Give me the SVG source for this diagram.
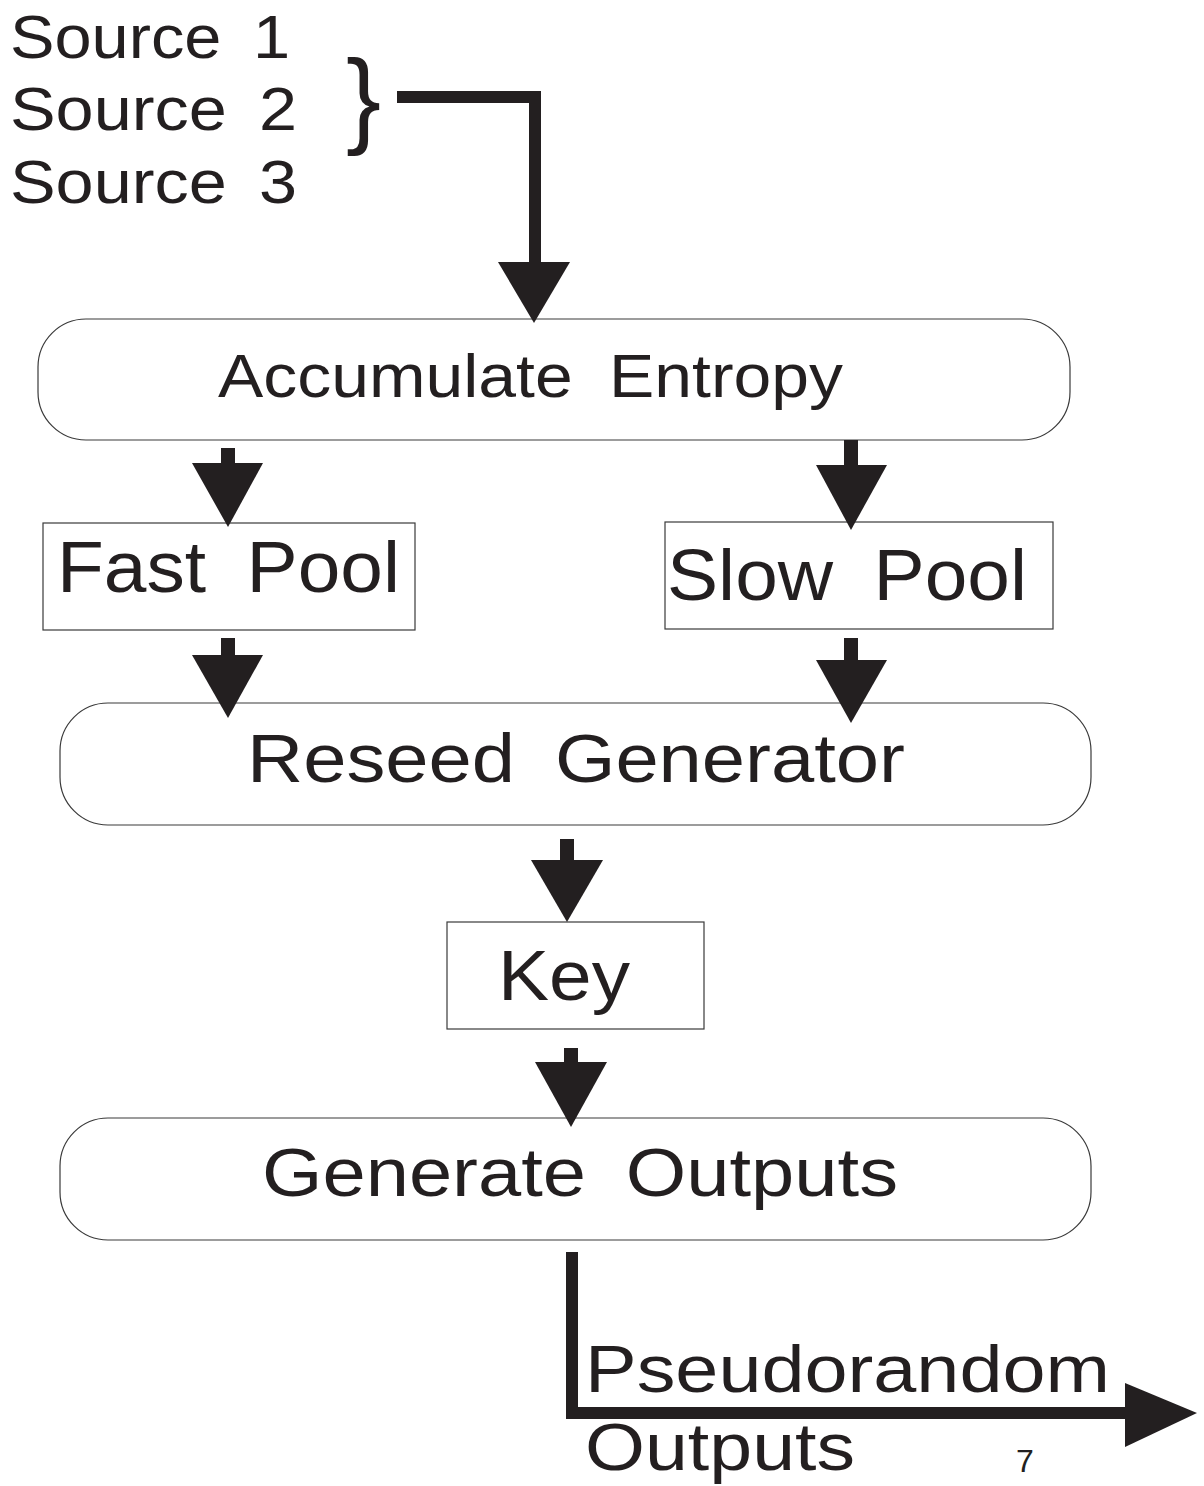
<svg xmlns="http://www.w3.org/2000/svg" width="1204" height="1486" viewBox="0 0 1204 1486">
<style>
text{font-family:"Liberation Sans",Arial,sans-serif;fill:#231f20}
.box{fill:#fff;stroke:#3a3a3a;stroke-width:1.2}
.wire{fill:none;stroke:#231f20}
.head{fill:#231f20}
</style>
<rect width="1204" height="1486" fill="#fff"/>
<g id="sources">
<text x="10" y="58" font-size="62" word-spacing="12" textLength="280" lengthAdjust="spacingAndGlyphs">Source 1</text>
<text x="10" y="130" font-size="62" word-spacing="12" textLength="287" lengthAdjust="spacingAndGlyphs">Source 2</text>
<text x="10" y="203" font-size="62" word-spacing="12" textLength="287" lengthAdjust="spacingAndGlyphs">Source 3</text>
<text x="346" y="134" font-size="105">}</text>
</g>
<g id="accumulate">
<rect class="box" x="38" y="319" width="1032" height="121" rx="48"/>
<text x="218" y="397" font-size="62" word-spacing="16" textLength="625" lengthAdjust="spacingAndGlyphs">Accumulate Entropy</text>
</g>
<g id="fast">
<rect class="box" x="43" y="523" width="372" height="107"/>
<text x="57" y="592" font-size="72" word-spacing="18" textLength="343" lengthAdjust="spacingAndGlyphs">Fast Pool</text>
</g>
<g id="slow">
<rect class="box" x="665" y="522" width="388" height="107"/>
<text x="667" y="600" font-size="72" word-spacing="18" textLength="360" lengthAdjust="spacingAndGlyphs">Slow Pool</text>
</g>
<g id="reseed">
<rect class="box" x="60" y="703" width="1031" height="122" rx="48"/>
<text x="247" y="782" font-size="68" word-spacing="16" textLength="658" lengthAdjust="spacingAndGlyphs">Reseed Generator</text>
</g>
<g id="key">
<rect class="box" x="447" y="922" width="257" height="107"/>
<text x="498" y="1000" font-size="70" textLength="132" lengthAdjust="spacingAndGlyphs">Key</text>
</g>
<g id="generate">
<rect class="box" x="60" y="1118" width="1031" height="122" rx="48"/>
<text x="262" y="1196" font-size="68" word-spacing="16" textLength="636" lengthAdjust="spacingAndGlyphs">Generate Outputs</text>
</g>
<g id="output-label">
<text x="585" y="1392" font-size="66" textLength="525" lengthAdjust="spacingAndGlyphs">Pseudorandom</text>
<text x="585" y="1470" font-size="66" textLength="270" lengthAdjust="spacingAndGlyphs">Outputs</text>
<text x="1016" y="1472" font-size="32">7</text>
</g>
<g id="connectors">
<path class="wire" d="M397 97 H535 V265" stroke-width="12"/>
<polygon class="head" points="498,262 570,262 534,323"/>
<path class="wire" d="M228 448 V466" stroke-width="14"/>
<polygon class="head" points="192,463 263,463 228,527"/>
<path class="wire" d="M851 440 V467" stroke-width="14"/>
<polygon class="head" points="816,465 887,465 851,530"/>
<path class="wire" d="M228 638 V658" stroke-width="14"/>
<polygon class="head" points="192,655 263,655 228,718"/>
<path class="wire" d="M851 638 V662" stroke-width="14"/>
<polygon class="head" points="816,660 887,660 851,723"/>
<path class="wire" d="M567 839 V862" stroke-width="14"/>
<polygon class="head" points="531,860 603,860 567,922"/>
<path class="wire" d="M571 1048 V1065" stroke-width="14"/>
<polygon class="head" points="535,1062 607,1062 571,1127"/>
<path class="wire" d="M572 1252 V1413 H1130" stroke-width="12"/>
<polygon class="head" points="1125,1383 1197,1413 1125,1447"/>
</g>
</svg>
